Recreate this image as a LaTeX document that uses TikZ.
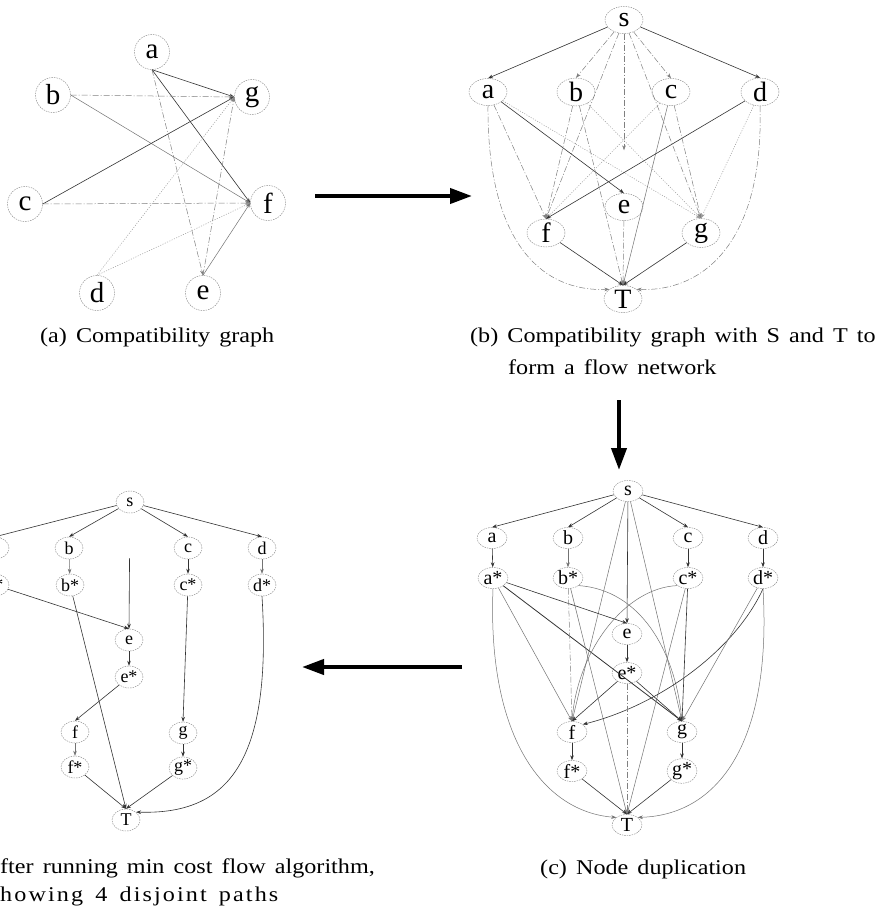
\documentclass[tikz,border=0pt]{standalone}
\usepackage{fontspec}
\setmainfont{Liberation Serif}
\newfontfamily\capfont[FakeStretch=1.15,WordSpace=1.5]{Liberation Serif}
\usetikzlibrary{arrows.meta,shapes.geometric}
\begin{document}
\begin{tikzpicture}[x=1pt,y=-1pt,
  >={Stealth[length=5pt,width=3.6pt]},
  lbl/.style={inner sep=0pt, draw=black!45, dash pattern=on 1.5pt off 1pt, line width=0.45pt},
  na/.style={lbl, circle, minimum size=35pt, font=\fontsize{29}{29}\selectfont},
  nb/.style={lbl, ellipse, minimum width=38pt, minimum height=27pt, font=\fontsize{28}{28}\selectfont},
  nc/.style={lbl, ellipse, minimum width=30pt, minimum height=21pt, font=\fontsize{20}{20}\selectfont},
  nd/.style={lbl, ellipse, minimum width=28pt, minimum height=22pt, font=\fontsize{18}{18}\selectfont},
  es/.style={->, draw=black!80, line width=0.6pt},
  eg/.style={->, draw=black!55, line width=0.5pt},
  ed/.style={->, draw=black!50, line width=0.5pt, dash pattern=on 6pt off 2pt on 1pt off 2pt},
  eo/.style={->, draw=black!40, line width=0.5pt, dash pattern=on 1pt off 1.5pt},
  big/.style={-{Triangle[length=22pt,width=15pt]}, line width=4pt, draw=black},
  captxt/.style={font=\capfont\fontsize{21}{25}\selectfont, inner sep=0pt, anchor=base west},
]
\useasboundingbox (0,0) rectangle (885,915);
\fill[white] (0,0) rectangle (885,915);
\clip (0,0) rectangle (885,915);

% ---------- panel (a)
\node[na] (Aa) at (152,52) {a};
\node[na] (Ab) at (53,95) {b};
\node[na] (Ag) at (252,97) {g};
\node[na] (Ac) at (25,204) {c};
\node[na] (Af) at (268,203) {f};
\node[na] (Ad) at (97,293) {d};
\node[na] (Ae) at (203,293) {e};
\draw[es] (Aa.south) -- (Ag.west);
\draw[es] (Aa.south) -- (Af.west);
\draw[ed] (Aa.south) -- (Ae.north);
\draw[ed] (Ab.east) -- (Ag.west);
\draw[eg] (Ab.east) -- (Af.west);
\draw[es] (Ac.east) -- (Ag.west);
\draw[ed] (Ac.east) -- (Af.west);
\draw[eo] (Ad.north) -- (Ag.west);
\draw[eo] (Ad.north) -- (Af.west);
\draw[ed] (Ae.north) -- (Ag.west);
\draw[eg] (Ae.north) -- (Af.west);

% ---------- panel (b)
\node[nb] (Bs) at (624,20) {s};
\node[nb] (Ba) at (488,92) {a};
\node[nb] (Bb) at (576,92) {b};
\node[nb] (Bc) at (671,92) {c};
\node[nb] (Bd) at (760,92) {d};
\node[nb] (Be) at (624,207) {e};
\node[nb] (Bf) at (546,233) {f};
\node[nb] (Bg) at (701,233) {g};
\node[nb] (BT) at (623,299) {T};
\draw[es] (Bs) -- (Ba.north);
\draw[ed] (Bs) -- (Bb.north);
\draw[ed] (Bs) -- (Bc.north);
\draw[es] (Bs) -- (Bd.north);
\draw[ed, shorten >=43pt] (Bs) -- (Be.north);
\draw[ed] (Bs) -- (Bf.north);
\draw[ed] (Bs) -- (Bg.north);
\draw[es] (Ba) -- (Be.north);
\draw[ed] (Ba) -- (Bf.north);
\draw[eo] (Ba) -- (Bg.north);
\draw[ed] (Ba.south) .. controls (487,240) and (540,292) .. (BT.north west);
\draw[ed] (Bb) -- (Bf.north);
\draw[eo] (Bb) -- (Bg.north);
\draw[ed] (Bb) -- (BT.north);
\draw[eo] (Bc) -- (Bf.north);
\draw[ed] (Bc) -- (Bg.north);
\draw[eg] (Bc) -- (BT.north);
\draw[es] (Bd) -- (Bf.north);
\draw[eo] (Bd) -- (Bg.north);
\draw[ed] (Bd.south) .. controls (764,240) and (705,292) .. (BT.north east);
\draw[ed] (Be) -- (BT.north);
\draw[es] (Bf) -- (BT.north);
\draw[es] (Bg) -- (BT.north);

% ---------- panel (c)
\node[nc] (Cs) at (628,491) {s};
\node[nc] (Ca) at (492,538) {a};
\node[nc] (Cb) at (568,538) {b};
\node[nc] (Cc) at (688,538) {c};
\node[nc] (Cd) at (763,538) {d};
\node[nc] (Cas) at (493,578) {a*};
\node[nc] (Cbs) at (568,578) {b*};
\node[nc] (Ccs) at (688,578) {c*};
\node[nc] (Cds) at (763,578) {d*};
\node[nc] (Ce) at (627,634) {e};
\node[nc] (Ces) at (627,673) {e*};
\node[nc] (Cf) at (572,732) {f};
\node[nc] (Cg) at (682,732) {g};
\node[nc] (Cfs) at (572,771) {f*};
\node[nc] (Cgs) at (682,771) {g*};
\node[nc] (CT) at (627,825) {T};
\draw[es] (Cs) -- (Ca.north);
\draw[es] (Cs) -- (Cb.north);
\draw[es] (Cs) -- (Cc.north);
\draw[es] (Cs) -- (Cd.north);
\draw[es] (Cs) -- (Ce.north);
\draw[eg] (Cs) -- (Cf.north);
\draw[eg] (Cs) -- (Cg.north);
\draw[es] (Ca) -- (Cas);
\draw[eg] (Cb) -- (Cbs);
\draw[es] (Cc) -- (Ccs);
\draw[es] (Cd) -- (Cds);
\draw[es] (Cas) -- (Ce.north);
\draw[eg] (Cas) -- (Cf.north);
\draw[es, line width=0.8pt] (Cas) -- (Cg.north);
\draw[eg] (Cas.south) .. controls (487,740) and (545,812) .. (CT.north west);
\draw[ed] (Cbs) -- (Cf.north);
\draw[eg] (Cbs.south east) .. controls (640,590) and (675,650) .. (Cg.north);
\draw[eg] (Cbs) -- (CT.north);
\draw[eg] (Ccs.south west) .. controls (625,588) and (578,650) .. (Cf.north);
\draw[es] (Ccs) -- (Cg.north);
\draw[eg] (Ccs) -- (CT.north);
\draw[es] (Cds.south) .. controls (735,650) and (660,705) .. (Cf.north east);
\draw[eg] (Cds) -- (Cg.north);
\draw[eg] (Cds.south) .. controls (772,740) and (720,815) .. (CT.north east);
\draw[es] (Ce) -- (Ces);
\draw[es] (Ces) -- (Cf.north);
\draw[es] (Ces) -- (Cg.north);
\draw[ed] (Ces) -- (CT.north);
\draw[es] (Cf) -- (Cfs);
\draw[es] (Cg) -- (Cgs);
\draw[es] (Cfs) -- (CT.north);
\draw[es] (Cgs) -- (CT.north);

% ---------- panel (d)
\node[nd] (Ds) at (130,502) {s};
\node[nd] (Da) at (-5,548) {a};
\node[nd] (Db) at (69,548) {b};
\node[nd] (Dc) at (188,548) {c};
\node[nd] (Dd) at (262,548) {d};
\node[nd] (Das) at (-5,585) {a*};
\node[nd] (Dbs) at (70,585) {b*};
\node[nd] (Dcs) at (188,585) {c*};
\node[nd] (Dds) at (262,585) {d*};
\node[nd] (De) at (129,640) {e};
\node[nd] (Des) at (129,677) {e*};
\node[nd] (Df) at (75,732) {f};
\node[nd] (Dfs) at (75,767) {f*};
\node[nd] (Dg) at (183,733) {g};
\node[nd] (Dgs) at (183,768) {g*};
\node[nd] (DT) at (126,820) {T};
\draw[es] (Ds) -- (Da.north);
\draw[es] (Ds) -- (Db.north);
\draw[es] (Ds) -- (Dc.north);
\draw[es] (Ds) -- (Dd.north);
\draw[es, shorten <=45pt] (Ds) -- (De.north);
\draw[es] (Da) -- (Das);
\draw[eg] (Db) -- (Dbs);
\draw[es] (Dc) -- (Dcs);
\draw[eg] (Dd) -- (Dds);
\draw[es] (Das) -- (De.north);
\draw[es] (Dbs) -- (DT.north);
\draw[es] (Dcs) -- (Dg.north);
\draw[es] (Dds.south) .. controls (272,760) and (230,815) .. (DT.north east);
\draw[es] (De) -- (Des);
\draw[es] (Des) -- (Df.north);
\draw[eg] (Df) -- (Dfs);
\draw[es] (Dg) -- (Dgs);
\draw[es] (Dfs) -- (DT.north);
\draw[es] (Dgs) -- (DT.north);

% ---------- big arrows between panels
\coordinate (ab1) at (315,196); \coordinate (ab2) at (472,196);
\coordinate (bc1) at (619,400); \coordinate (bc2) at (619,470);
\coordinate (cd1) at (462,667); \coordinate (cd2) at (302,667);
\draw[big] (ab1) -- (ab2);
\draw[big] (bc1) -- (bc2);
\draw[big] (cd1) -- (cd2);

% ---------- captions
\node[captxt] (capa) at (40,342) {(a) Compatibility graph};
\node[captxt] (capb1) at (470,342) {(b) Compatibility graph with S and T to};
\node[captxt] (capb2) at (508,374) {form a flow network};
\node[captxt] (capc) at (540,874) {(c) Node duplication};
\node[captxt] (capd1) at (0,873) {fter running min cost flow algorithm,};
\node[captxt] (capd2) at (0,901) {\addfontfeature{LetterSpace=10}howing 4 disjoint paths};
\end{tikzpicture}
\end{document}
